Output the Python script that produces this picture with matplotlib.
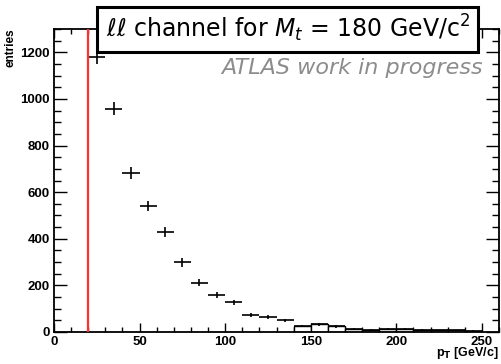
import numpy as np
import matplotlib.pyplot as plt
from matplotlib.patches import Rectangle
from matplotlib.ticker import MultipleLocator

# bin edges 20..250 GeV/c, 10 GeV/c wide
bin_lo = [20, 30, 40, 50, 60, 70, 80, 90, 100, 110, 120, 130,
          140, 150, 160, 170, 180, 190, 200, 210, 220, 230, 240]
entries = [1180, 958, 683, 541, 428, 299, 211, 160, 127, 74, 63, 50,
           25, 33, 24, 14, 10, 15, 15, 10, 7, 7, 6]
errors = [30, 28, 26, 23, 21, 18, 15, 13, 12, 9, 8, 7,
          5, 6, 5, 4, 3, 4, 4, 3, 3, 3, 3]
bin_w = 10
cut = 20          # pT cut (red line)
tail_from = 140   # bins drawn as outlined bars from here on

plt.rcParams['font.family'] = ['Liberation Sans', 'DejaVu Sans']
plt.rcParams['mathtext.fontset'] = 'dejavusans'

fig = plt.figure(figsize=(5.01, 3.64), dpi=100)
ax = fig.add_axes([54 / 501, 32 / 364, 445 / 501, 303 / 364])

lo = np.array(bin_lo)
y = np.array(entries)
tail = lo >= tail_from
ax.bar(lo[tail], y[tail], width=bin_w, align='edge', facecolor='white',
       edgecolor='black', linewidth=1.0, zorder=2)
ax.errorbar(lo + bin_w / 2, y, xerr=bin_w / 2, yerr=errors, fmt='none',
            ecolor='black', elinewidth=1.2, capsize=0, zorder=3)
ax.axvline(cut, color='#ff3030', linewidth=1.6, zorder=4)

ax.set_xlim(0, 260)
ax.set_ylim(0, 1300)
ax.xaxis.set_major_locator(MultipleLocator(50))
ax.xaxis.set_minor_locator(MultipleLocator(10))
ax.yaxis.set_major_locator(MultipleLocator(200))
ax.yaxis.set_minor_locator(MultipleLocator(50))
ax.tick_params(which='both', direction='in', top=True, right=True,
               labelsize=9.5, width=1.0, pad=3)
ax.tick_params(axis='x', which='major', length=6.5)
ax.tick_params(axis='x', which='minor', length=3.5)
ax.tick_params(axis='y', which='major', length=9.5)
ax.tick_params(axis='y', which='minor', length=5)
for lab in ax.get_xticklabels() + ax.get_yticklabels():
    lab.set_fontweight('bold')
for s in ax.spines.values():
    s.set_linewidth(1.3)

fig.text(10 / 501, 1 - 28 / 364, 'entries', rotation=90, ha='center',
         va='top', fontsize=8.5, fontweight='bold')
fig.text(499 / 501, 1 - 361 / 364, r'p$_{\mathbf{T}}$ [GeV/c]', ha='right',
         va='bottom', fontsize=9, fontweight='bold')

# title box
fig.patches.append(Rectangle((97 / 501, 1 - 52 / 364), 381 / 501, 45 / 364,
                             transform=fig.transFigure, facecolor='white',
                             edgecolor='black', linewidth=2.2, zorder=5))
fig.text(288 / 501, 1 - 37 / 364,
         r'$\ell\ell$ channel for $M_t$ = 180 GeV/c$^2$',
         ha='center', va='baseline', fontsize=17, family='DejaVu Sans',
         zorder=6)
fig.text(483 / 501, 1 - 74 / 364, 'ATLAS work in progress', ha='right',
         va='baseline', fontsize=16, style='italic', color='#8c8c8c',
         family='DejaVu Sans')

fig.savefig('out.png', dpi=100)
